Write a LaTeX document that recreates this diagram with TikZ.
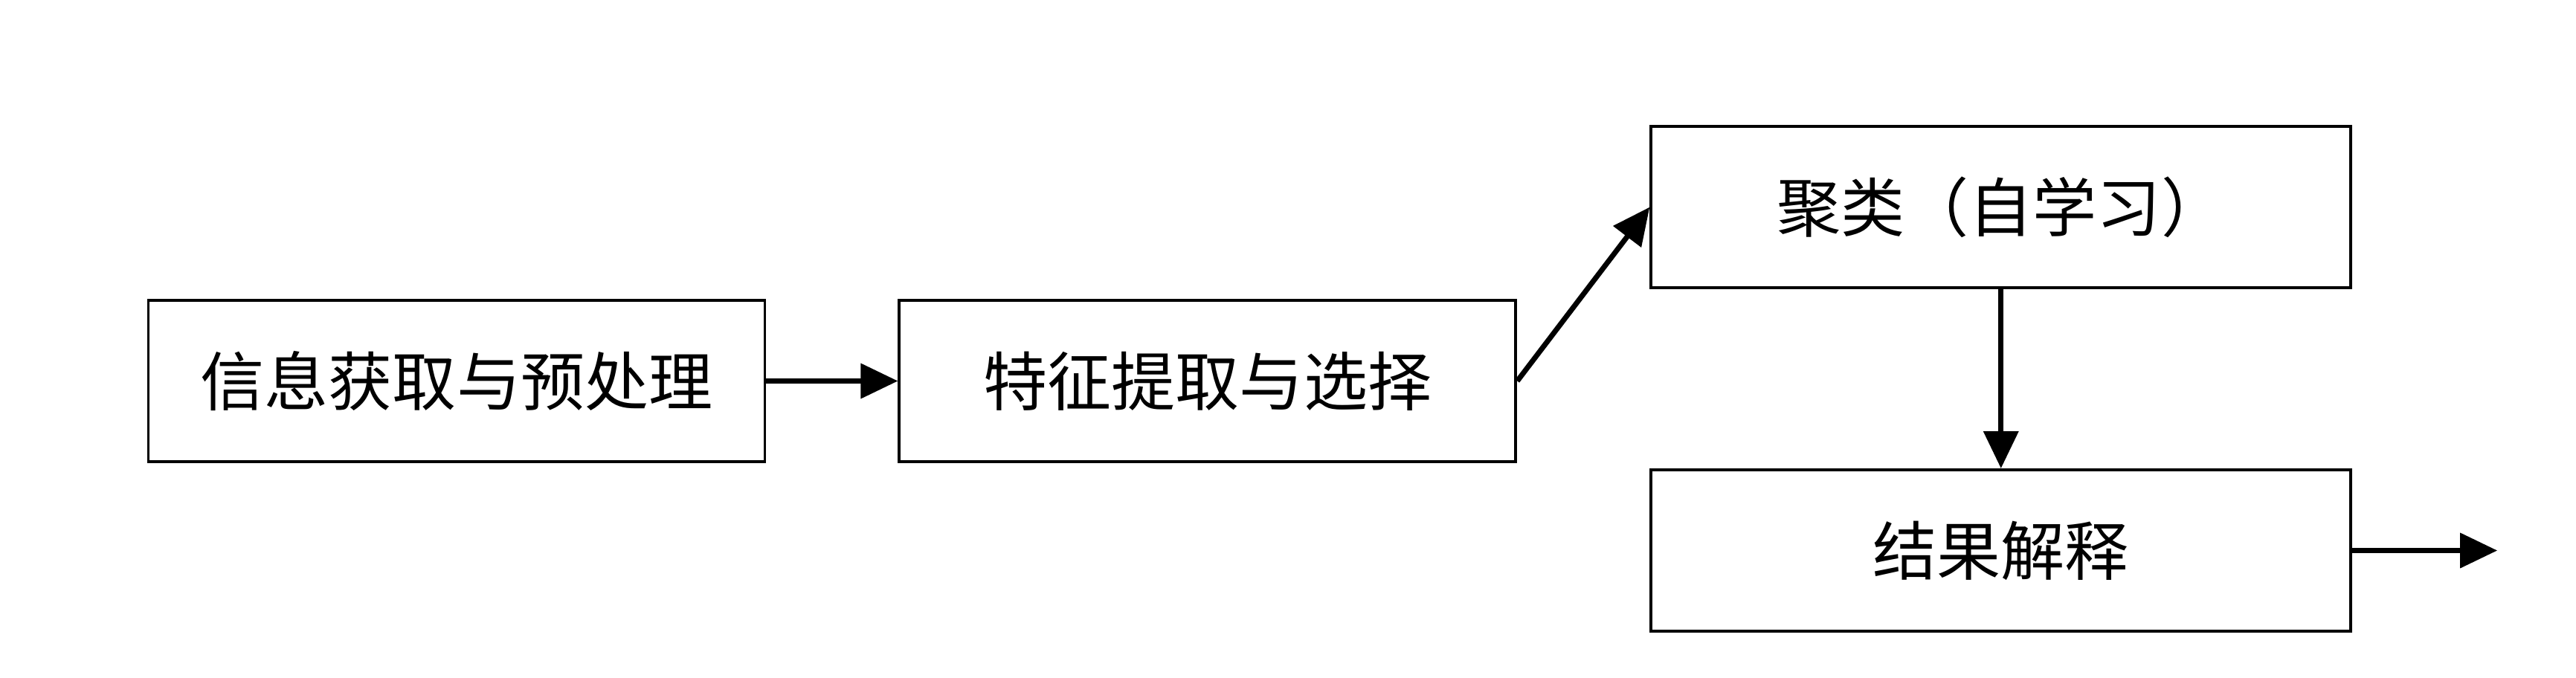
\documentclass[tikz,border=0pt]{standalone}
\usepackage{fontspec}
\newfontfamily\cjk{Noto Sans CJK SC}
\usepackage{tikz}
\usetikzlibrary{arrows.meta,positioning}

\begin{document}
\begin{tikzpicture}[
  node distance=24.1mm and 17.7mm,
  box/.style={draw, line width=1.1pt, align=center, minimum width=82.9mm, minimum height=21.7mm,
    font=\cjk\fontsize{24.5pt}{30pt}\selectfont},
  wide/.style={minimum width=94.1mm},
  arr/.style={-{Triangle[length=5mm, width=4.6mm]}, line width=2pt}
]
\useasboundingbox (0,0) rectangle (34.64,9.11);
\node[box] (acq) at (6.14,3.985) {信息获取与预处理};
\node[box, right=of acq] (feat) {特征提取与选择};
\node[box, wide, above right=1.3mm and 17.8mm of feat] (clus) {聚类（自学习）};
\node[box, wide, below=of clus] (res) {结果解释};
\coordinate[right=19.5mm of res] (out);
\draw[arr] (acq) -- (feat);
\draw[arr] (feat.east) -- (clus.west);
\draw[arr] (clus) -- (res);
\draw[arr] (res) -- (out);
\end{tikzpicture}
\end{document}
